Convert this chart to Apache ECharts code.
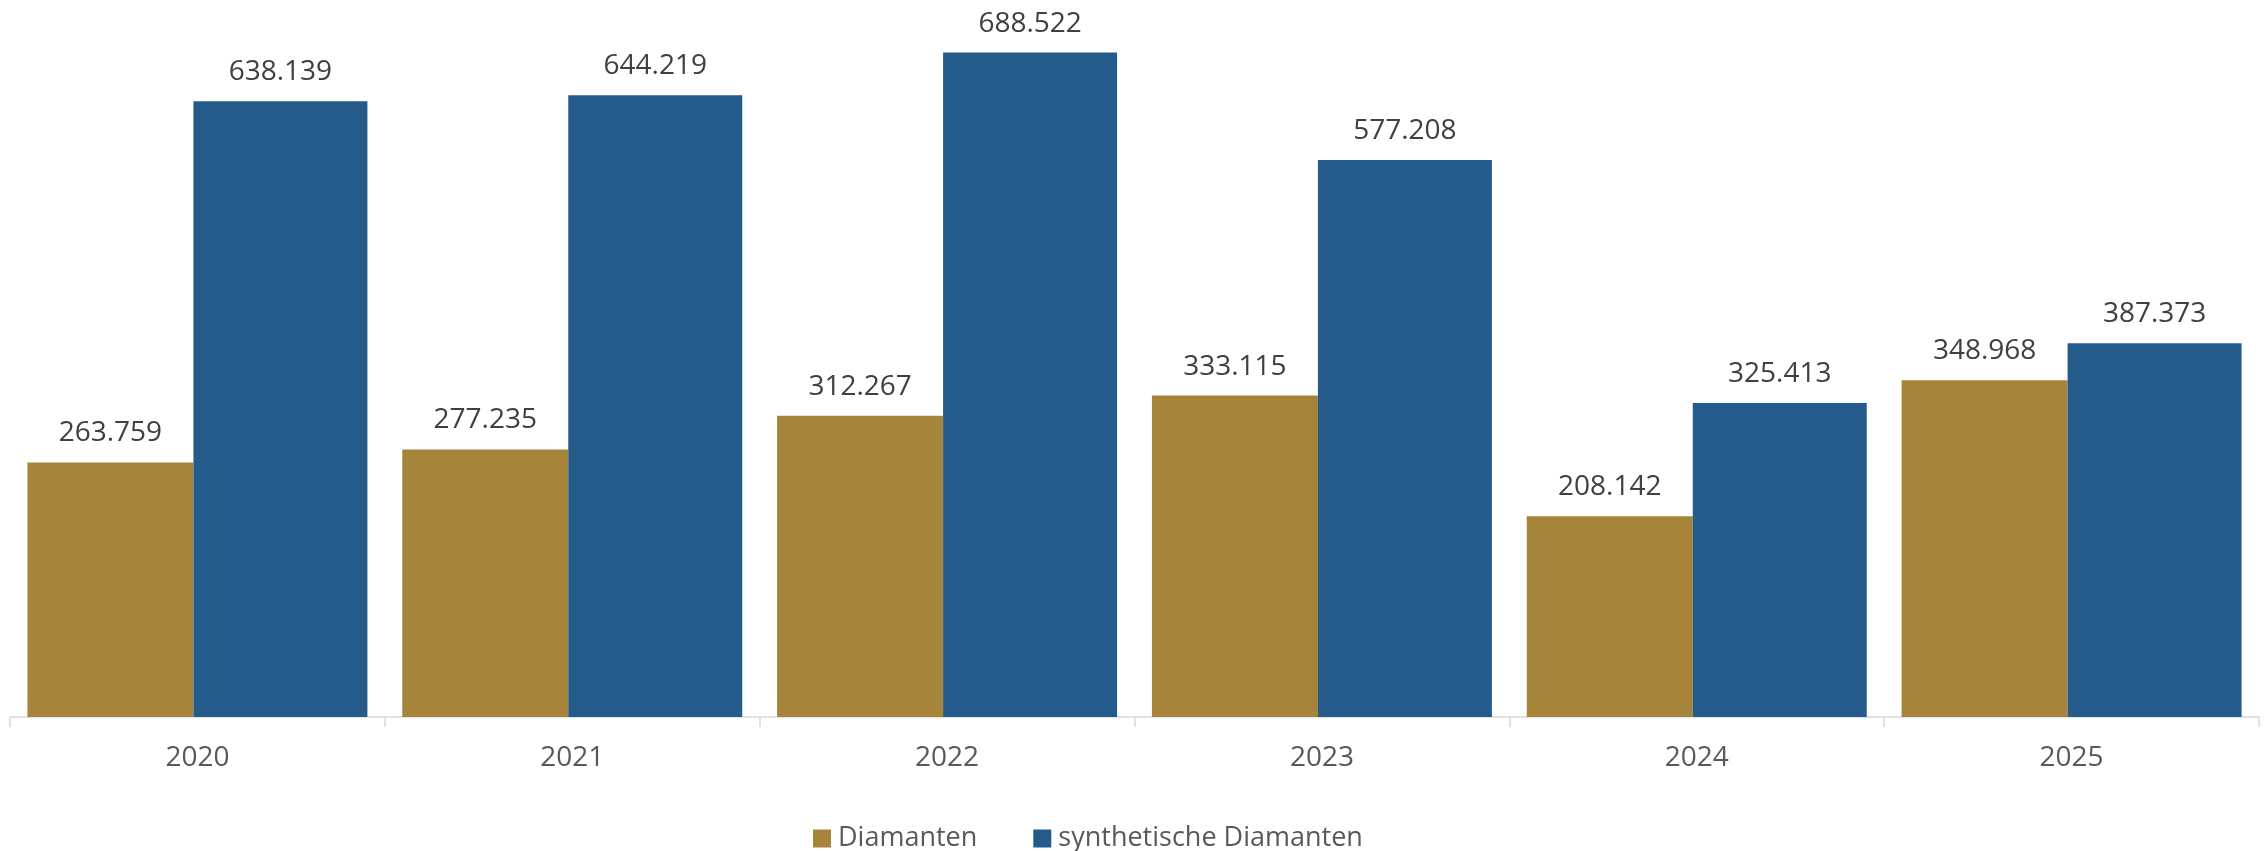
<!DOCTYPE html>
<html>
<head>
<meta charset="utf-8">
<script src="https://cdn.jsdelivr.net/npm/echarts@6/dist/echarts.min.js"></script>
<style>html,body{margin:0;padding:0;background:#fff;}#c{width:2267px;height:851px;}</style>
</head>
<body>
<div id="c"></div>
<script>
const categories = ['2020', '2021', '2022', '2023', '2024', '2025'];
const diamanten = [263759, 277235, 312267, 333115, 208142, 348968];
const synthetisch = [638139, 644219, 688522, 577208, 325413, 387373];
const seriesNames = ['Diamanten', 'synthetische Diamanten'];

const fmt = v => String(v).replace(/\B(?=(\d{3})+(?!\d))/g, '.');
const FONT = '"Open Sans", sans-serif';

const chart = echarts.init(document.getElementById('c'));
const label = {
  show: true, position: 'top', distance: 15,
  color: '#404040', fontSize: 28, fontFamily: FONT,
  formatter: p => fmt(p.value)
};
chart.setOption({
  animation: false,
  backgroundColor: '#ffffff',
  grid: { left: 10, right: 8, top: 0, bottom: 134, containLabel: false },
  legend: {
    data: seriesNames,
    left: 808, top: 820,
    itemWidth: 18, itemHeight: 18, itemGap: 56,
    icon: 'rect',
    textStyle: { color: '#595959', fontSize: 27, fontFamily: FONT, padding: [0, 0, 0, 2] }
  },
  xAxis: {
    type: 'category', data: categories,
    axisLine: { show: true, lineStyle: { color: '#d9d9d9', width: 1.5 } },
    axisTick: { show: true, length: 10, lineStyle: { color: '#d9d9d9', width: 1.5 } },
    axisLabel: { color: '#595959', fontSize: 28, fontFamily: FONT, margin: 27 }
  },
  yAxis: {
    type: 'value', min: 0, max: 743000, show: false,
    splitLine: { show: false }
  },
  series: [
    { name: seriesNames[0], type: 'bar', data: diamanten, barGap: '0%', barWidth: 166,
      itemStyle: { color: '#A6843A' }, label },
    { name: seriesNames[1], type: 'bar', data: synthetisch, barGap: '0%', barWidth: 174,
      itemStyle: { color: '#255B8B' }, label }
  ]
});
</script>
</body>
</html>
